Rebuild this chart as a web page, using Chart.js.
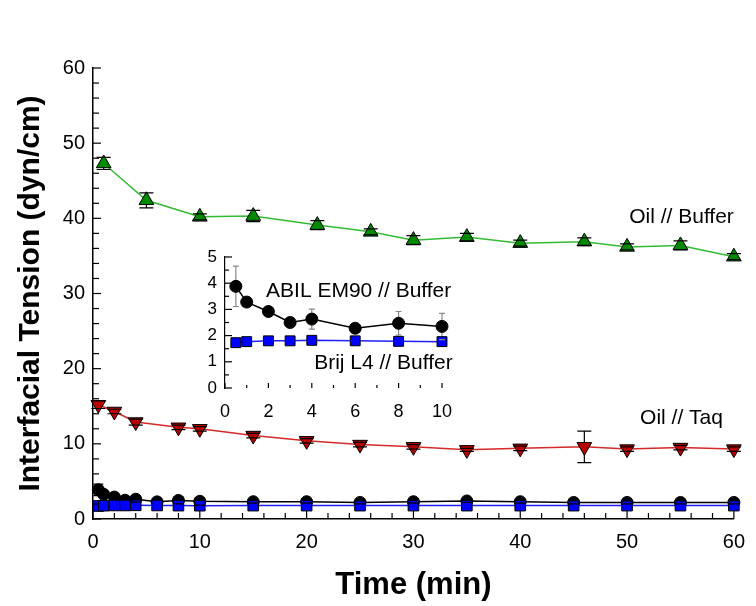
<!DOCTYPE html>
<html>
<head>
<meta charset="utf-8">
<script src="https://cdn.jsdelivr.net/npm/chart.js@4.4.1/dist/chart.umd.min.js"></script>
<style>
  body { margin: 0; background: #fff; }
  #wrap { position: relative; width: 756px; height: 606px; }
  #main { position: absolute; left: 0; top: 0; }
  #inset { position: absolute; left: 150px; top: 230px; }
</style>
</head>
<body>
<div id="wrap">
  <canvas id="main" width="756" height="606"></canvas>
  <canvas id="inset" width="320" height="200"></canvas>
</div>
<script>
// values
const bufferTime = [1, 5, 10, 15, 21, 26, 30, 35, 40, 46, 50, 55, 60];
const bufferIFT = [47.3, 42.4, 40.2, 40.3, 39.1, 38.2, 37.1, 37.5, 36.7, 36.9, 36.2, 36.4, 34.9];
const bufferErr = [0.8, 1.0, 0.4, 0.75, 0.6, 0.4, 0.6, 0.5, 0.4, 0.5, 0.4, 0.6, 0.4];

const taqTime = [0.5, 2, 4, 8, 10, 15, 20, 25, 30, 35, 40, 46, 50, 55, 60];
const taqIFT = [15.2, 14.3, 12.9, 12.2, 12.0, 11.1, 10.4, 9.9, 9.6, 9.2, 9.4, 9.6, 9.3, 9.5, 9.3];
const taqErr = [0.5, 0.3, 0.4, 0.3, 0.3, 0.3, 0.3, 0.3, 0.3, 0.2, 0.3, 2.1, 0.3, 0.3, 0.3];

const surfTime = [0.5, 1, 2, 3, 4, 6, 8, 10, 15, 20, 25, 30, 35, 40, 45, 50, 55, 60];
const abilIFT = [3.88, 3.28, 2.92, 2.5, 2.63, 2.28, 2.47, 2.35, 2.3, 2.3, 2.2, 2.3, 2.4, 2.3, 2.2, 2.2, 2.2, 2.2];
const abilErr = [0.77, 0, 0, 0, 0.38, 0, 0.45, 0.5, 0.2, 0.2, 0.2, 0.2, 0.2, 0.2, 0.2, 0.2, 0.2, 0.2];
const brijIFT = [1.73, 1.77, 1.8, 1.8, 1.82, 1.8, 1.78, 1.77, 1.78, 1.78, 1.78, 1.78, 1.78, 1.78, 1.78, 1.78, 1.78, 1.78];

const mainTicksX = [0, 10, 20, 30, 40, 50, 60];
const mainTicksY = [0, 10, 20, 30, 40, 50, 60];
const insetTicksX = [0, 2, 4, 6, 8, 10];
const insetTicksY = [0, 1, 2, 3, 4, 5];

const FONT = "'Liberation Sans', Arial, sans-serif";

function pts(xs, ys, maxX) {
    let out = [];
    for (let i = 0; i < xs.length; i++) {
        if (maxX === undefined || xs[i] <= maxX) out.push({ x: xs[i], y: ys[i] });
    }
    return out;
}

// error bars: stems under the markers, caps on top
const errorBars = {
    id: 'errorBars',
    beforeDatasetsDraw(chart) { drawErr(chart, false); },
    afterDatasetsDraw(chart) { drawErr(chart, true); }
};
function drawErr(chart, caps) {
    const ctx = chart.ctx, xs = chart.scales.x, ys = chart.scales.y;
    chart.data.datasets.forEach(function (ds) {
        if (!ds.errors) return;
        ctx.save();
        ctx.strokeStyle = ds.errorColor || '#000';
        ctx.lineWidth = 1.2;
        ds.data.forEach(function (p, j) {
            const e = ds.errors[j];
            if (!e) return;
            const x = xs.getPixelForValue(p.x);
            const y1 = ys.getPixelForValue(p.y + e);
            const y2 = ys.getPixelForValue(p.y - e);
            const w = ds.capWidth || 6;
            ctx.beginPath();
            if (caps) {
                ctx.moveTo(x - w, y1); ctx.lineTo(x + w, y1);
                ctx.moveTo(x - w, y2); ctx.lineTo(x + w, y2);
            } else {
                ctx.moveTo(x, y1); ctx.lineTo(x, y2);
            }
            ctx.stroke();
        });
        ctx.restore();
    });
}

// inward major / minor ticks
const inTicks = {
    id: 'inTicks',
    afterDraw(chart, args, opts) {
        const ctx = chart.ctx;
        ctx.save();
        ctx.strokeStyle = '#000';
        ctx.lineWidth = 1.2;
        opts.axes.forEach(function (a) {
            const s = chart.scales[a.id];
            const n = Math.round((s.max - s.min) / a.minor);
            for (let k = 0; k <= n; k++) {
                const v = s.min + k * a.minor;
                const r = v / a.major;
                const major = Math.abs(r - Math.round(r)) < 1e-6;
                const len = major ? a.majorLen : a.minorLen;
                const p = s.getPixelForValue(v);
                ctx.beginPath();
                if (s.isHorizontal()) { ctx.moveTo(p, s.top); ctx.lineTo(p, s.top - len); }
                else { ctx.moveTo(s.right, p); ctx.lineTo(s.right + len, p); }
                ctx.stroke();
            }
        });
        ctx.restore();
    }
};

// series names written next to the curves
const notes = {
    id: 'notes',
    afterDraw(chart, args, opts) {
        const ctx = chart.ctx, xs = chart.scales.x, ys = chart.scales.y;
        ctx.save();
        ctx.font = opts.font;
        ctx.fillStyle = '#000';
        ctx.textAlign = 'center';
        ctx.textBaseline = 'middle';
        opts.items.forEach(function (n) {
            ctx.fillText(n.text, xs.getPixelForValue(n.x), ys.getPixelForValue(n.y));
        });
        ctx.restore();
    }
};

function series(label, data, line, fill, style, radius, errors, extra) {
    return Object.assign({
        label: label,
        data: data,
        borderColor: line,
        borderWidth: 1.5,
        pointStyle: style,
        pointRadius: radius,
        pointBackgroundColor: fill,
        pointBorderColor: '#000',
        pointBorderWidth: 1,
        tension: 0,
        clip: false,
        errors: errors
    }, extra || {});
}

function tickCb(list) {
    return function (value) { return list.indexOf(value) >= 0 ? value : ''; };
}

new Chart(document.getElementById('main'), {
    type: 'line',
    data: {
        datasets: [
            series('Brij L4 // Buffer', pts(surfTime, brijIFT), '#1f1fff', '#0000ff', 'rect', 7.5, null),
            series('ABIL EM90 // Buffer', pts(surfTime, abilIFT), '#000', '#000', 'circle', 6, abilErr, { capWidth: 5 }),
            series('Oil // Taq', pts(taqTime, taqIFT), '#d42a2a', '#b80000', 'triangle', 8.5, taqErr, { pointRotation: 180, capWidth: 7 }),
            series('Oil // Buffer', pts(bufferTime, bufferIFT), '#33bb33', '#008a00', 'triangle', 8.5, bufferErr, { capWidth: 7 })
        ]
    },
    options: {
        responsive: false,
        animation: false,
        layout: { padding: { left: 0, right: 18, top: 68, bottom: 0 } },
        plugins: {
            legend: { display: false },
            tooltip: { enabled: false },
            inTicks: {
                axes: [
                    { id: 'x', major: 10, minor: 2, majorLen: 8, minorLen: 6 },
                    { id: 'y', major: 10, minor: 2, majorLen: 8, minorLen: 6 }
                ]
            },
            notes: {
                font: '21px ' + FONT,
                items: [
                    { text: 'Oil // Buffer', x: 55.1, y: 40.2 },
                    { text: 'Oil // Taq', x: 55.1, y: 13.4 }
                ]
            }
        },
        scales: {
            x: {
                type: 'linear', min: 0, max: 60,
                afterFit: function (s) { s.height = 87; },
                grid: { display: false, drawTicks: false },
                border: { display: true, color: '#000', width: 1.5 },
                ticks: { stepSize: 10, padding: 11, color: '#000', font: { family: FONT, size: 20 }, callback: tickCb(mainTicksX) },
                title: { display: true, text: 'Time (min)', color: '#000', font: { family: FONT, size: 31, weight: 'bold' }, padding: { top: 0, bottom: 2 } }
            },
            y: {
                type: 'linear', min: 0, max: 60,
                afterFit: function (s) { s.width = 93; },
                grid: { display: false, drawTicks: false },
                border: { display: true, color: '#000', width: 1.5 },
                ticks: { stepSize: 10, padding: 8, color: '#000', font: { family: FONT, size: 20 }, callback: tickCb(mainTicksY) },
                title: { display: true, text: 'Interfacial Tension (dyn/cm)', color: '#000', font: { family: FONT, size: 30, weight: 'bold' }, padding: { top: 13, bottom: 0 } }
            }
        }
    },
    plugins: [errorBars, inTicks, notes]
});

new Chart(document.getElementById('inset'), {
    type: 'line',
    data: {
        datasets: [
            series('Brij L4 // Buffer', pts(surfTime, brijIFT, 10), '#1f1fff', '#0000ff', 'rect', 7, null),
            series('ABIL EM90 // Buffer', pts(surfTime, abilIFT, 10), '#000', '#000', 'circle', 6, abilErr, { capWidth: 3, errorColor: '#888' })
        ]
    },
    options: {
        responsive: false,
        animation: false,
        layout: { padding: { left: 0, right: 28, top: 27, bottom: 0 } },
        plugins: {
            legend: { display: false },
            tooltip: { enabled: false },
            inTicks: {
                axes: [
                    { id: 'x', major: 2, minor: 1, majorLen: 5, minorLen: 3 },
                    { id: 'y', major: 1, minor: 0.5, majorLen: 7, minorLen: 4 }
                ]
            },
            notes: {
                font: '21px ' + FONT,
                items: [
                    { text: 'ABIL EM90 // Buffer', x: 6.16, y: 3.7 },
                    { text: 'Brij L4 // Buffer', x: 7.3, y: 0.94 }
                ]
            }
        },
        scales: {
            x: {
                type: 'linear', min: 0, max: 10,
                afterFit: function (s) { s.height = 42; },
                grid: { display: false, drawTicks: false },
                border: { display: false },
                ticks: { stepSize: 2, padding: 13, color: '#000', font: { family: FONT, size: 18 }, callback: tickCb(insetTicksX) }
            },
            y: {
                type: 'linear', min: 0, max: 5,
                afterFit: function (s) { s.width = 75; },
                grid: { display: false, drawTicks: false },
                border: { display: true, color: '#000', width: 1.2 },
                ticks: { stepSize: 1, padding: 8, color: '#000', font: { family: FONT, size: 17 }, callback: tickCb(insetTicksY) }
            }
        }
    },
    plugins: [errorBars, inTicks, notes]
});
</script>
</body>
</html>
